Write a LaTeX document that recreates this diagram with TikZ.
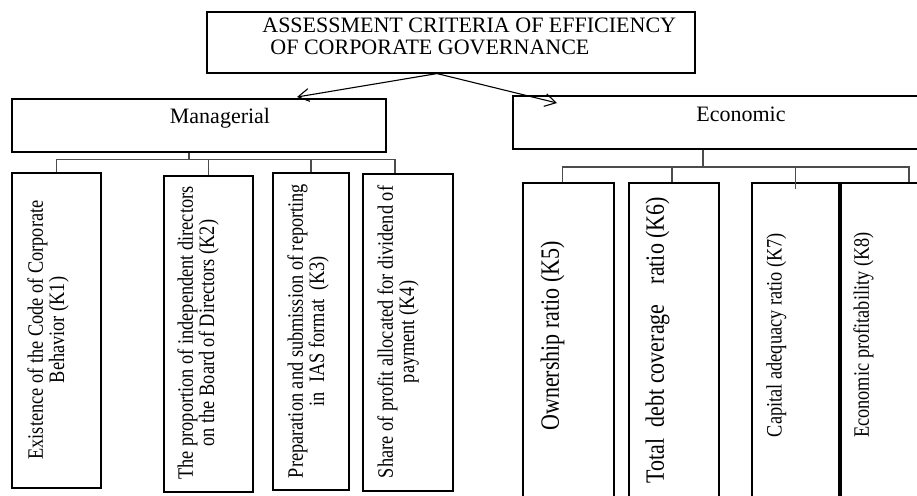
\documentclass[tikz,border=0pt]{standalone}
\usepackage{fontspec}
\setmainfont{Liberation Serif}
\usetikzlibrary{positioning,arrows.meta,calc}

\begin{document}
\begin{tikzpicture}[
    x=0.5455pt, y=-0.5455pt,
    box/.style={draw, line width=0.6pt, inner sep=0pt},
    titletext/.style={inner sep=0pt, font=\fontsize{12}{12}\selectfont},
    ktext/.style={rotate=90, yscale=1.2, align=center, inner sep=0pt, anchor=north, font=\fontsize{10}{9.6}\selectfont},
    bigktext/.style={ktext, font=\fontsize{12}{12}\selectfont},
    arrowline/.style={line width=0.6pt, -{Straight Barb[length=6pt, width=7pt]}},
    busline/.style={draw=black!70, line width=0.9pt}
]
\useasboundingbox (0,0) rectangle (917,496);

\node[box, minimum width=266.2pt, minimum height=33.3pt] (root) at (451,42.5) {};
\node[titletext, align=left, anchor=north west] (roottext) at (262,18) {ASSESSMENT CRITERIA OF EFFICIENCY\\\hspace*{4.4pt}OF CORPORATE GOVERNANCE};

\node[box, minimum width=204pt, minimum height=28.9pt] (mgr) at (199,125.5) {};
\node[titletext, anchor=north] (mgrtext) at (220,108) {Managerial};
\node[box, minimum width=232.9pt, minimum height=28.9pt] (eco) at (726.5,122.5) {};
\node[titletext, anchor=north] (ecotext) at (741,107) {Economic};

\coordinate (fork) at ($(root.south)+(-14,0)$);
\coordinate (mgrtip) at (297,97);
\coordinate (ecotip) at (557,103);
\draw[arrowline] (fork) -- (mgrtip);
\draw[arrowline] (fork) -- (ecotip);

\node[box, minimum width=48.5pt, minimum height=171.8pt] (k1) at (56.5,330.5) {};
\node[box, minimum width=48.5pt, minimum height=172.4pt] (k2) at (208.5,334) {};
\node[box, minimum width=41.5pt, minimum height=172.9pt] (k3) at (311,331.5) {};
\node[box, minimum width=49.1pt, minimum height=172.9pt] (k4) at (408,332.5) {};
\node[box, minimum width=49.6pt, minimum height=175.7pt] (k5) at (568.5,344) {};
\node[box, minimum width=49.1pt, minimum height=175.7pt] (k6) at (674,344) {};
\node[box, minimum width=47.5pt, minimum height=175.7pt] (k7) at (795.5,344) {};
\node[box, minimum width=49.1pt, minimum height=175.7pt] (k8) at (886,344) {};

\coordinate (mbus) at ($(mgr.south)+(-10,7)$);
\coordinate (k4top) at ($(k4.north)+(-13,0)$);
\draw[busline] (mgr.south -| mbus) -- (mbus);
\draw[busline] (k1.north) |- (k4top |- mbus) -- (k4top);
\draw[busline] (k2.north) -- (k2.north |- mbus);
\draw[busline] (k3.north) -- (k3.north |- mbus);

\coordinate (ebus) at (703,167);
\coordinate (k5top) at ($(k5.north)+(-6,0)$);
\coordinate (k6top) at ($(k6.north)+(-2,0)$);
\coordinate (k8top) at ($(k8.north)+(23,0)$);
\draw[busline] (eco.south -| ebus) -- (ebus);
\draw[busline] (k5top) |- (k8top |- ebus) -- (k8top);
\draw[busline] (k6top) -- (k6top |- ebus);
\draw[busline] ($(k7.north)+(0,7)$) -- (k7.north |- ebus);

\node[ktext] (k1text) at (27,330) {Existence of the Code of Corporate\\Behavior (K1)};
\node[ktext] (k2text) at (177,333) {The proportion of independent directors\\on the Board of Directors (K2)};
\node[ktext] (k3text) at (287,331) {Preparation and submission of reporting\\in~~IAS format~~(K3)};
\node[ktext] (k4text) at (377,332) {Share of profit allocated for dividend of\\payment (K4)};
\node[bigktext] (k5text) at (540,336) {Ownership ratio (K5)};
\node[bigktext] (k6text) at (645,340) {Total\hspace{6pt}debt coverage\hspace{11pt}ratio (K6)};
\node[ktext] (k7text) at (766,335) {Capital adequacy ratio (K7)};
\node[ktext] (k8text) at (853,335) {Economic profitability (K8)};
\end{tikzpicture}
\end{document}
